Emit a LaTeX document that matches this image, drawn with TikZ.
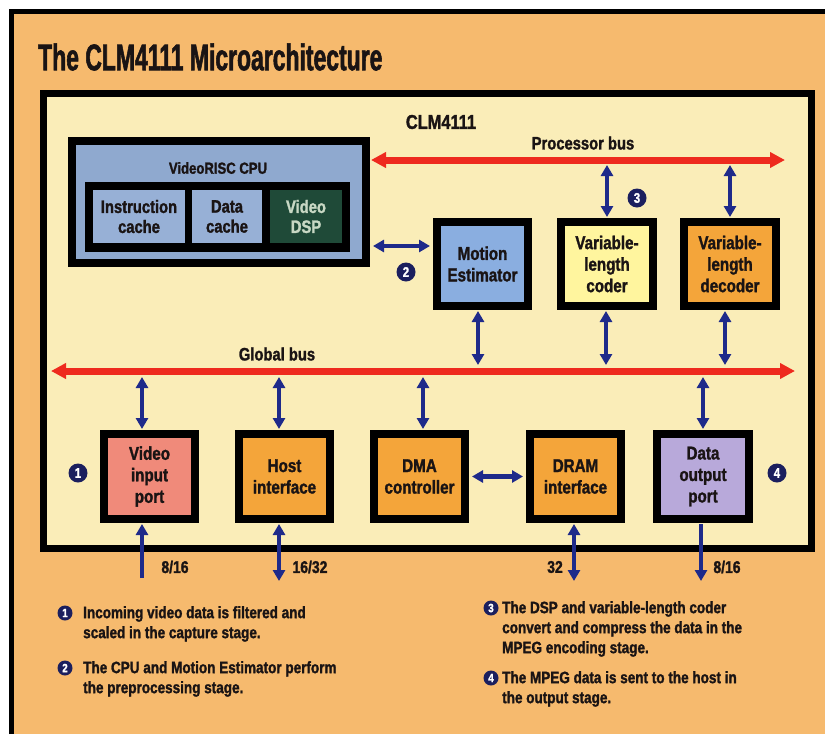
\documentclass[tikz,border=0pt]{standalone}
\usepackage{fontspec}
\setmainfont{Liberation Sans}[FakeStretch=0.82, BoldFeatures={FakeBold=1.5}]
\newfontfamily\titlefont{Liberation Sans}[FakeStretch=0.62, BoldFeatures={FakeBold=1.5}]
\usetikzlibrary{arrows.meta}
\definecolor{outerorange}{HTML}{F6BA6E}
\definecolor{chipyellow}{HTML}{FAEDB8}
\definecolor{cpublue}{HTML}{8FA9CF}
\definecolor{cacheblue}{HTML}{97B0D6}
\definecolor{dspgreen}{HTML}{1F4A38}
\definecolor{dsptext}{HTML}{C8D8C4}
\definecolor{meblue}{HTML}{8AAEE0}
\definecolor{vlcyellow}{HTML}{FFF59E}
\definecolor{boxorange}{HTML}{F4A53A}
\definecolor{vippink}{HTML}{F08A7A}
\definecolor{dolav}{HTML}{B8A9DA}
\definecolor{busred}{HTML}{EE2A1E}
\definecolor{arrblue}{HTML}{1E2A8A}
\definecolor{navy}{HTML}{1B1F5E}
\definecolor{ink}{HTML}{1A1414}
\tikzset{
  blockbox/.style={draw=black, line width=8pt, rectangle, inner sep=0pt, align=center,
    text=ink, font=\bfseries\fontsize{18.5}{21.5}\selectfont},
  cellbox/.style={rectangle, inner sep=0pt, align=center, text=ink,
    font=\bfseries\fontsize{18}{20}\selectfont},
  buslabel/.style={text=ink, font=\bfseries\fontsize{18}{21}\selectfont, inner sep=0pt},
  widthlabel/.style={text=ink, font=\bfseries\fontsize{17}{19}\selectfont, inner sep=0pt},
  notetext/.style={text=ink, font=\bfseries\fontsize{16.5}{20}\selectfont, inner sep=0pt, align=left, anchor=north west},
  numcirc/.style={circle, fill=navy, text=white, inner sep=0pt, minimum size=19pt,
    font=\bfseries\fontsize{14}{14}\selectfont},
  notecirc/.style={circle, fill=navy, text=white, inner sep=0pt, minimum size=15pt,
    font=\bfseries\fontsize{12}{12}\selectfont},
  redbus/.style={draw=busred, line width=7pt, {Triangle[length=15pt,width=15pt]}-{Triangle[length=15pt,width=15pt]}},
  barrow/.style={draw=arrblue, line width=4.5pt, {Triangle[length=11pt,width=12pt]}-{Triangle[length=11pt,width=12pt]}},
  barrowone/.style={draw=arrblue, line width=4.5pt, -{Triangle[length=11pt,width=12pt]}},
}
\begin{document}
\begin{tikzpicture}[x=1pt,y=-1pt]
\useasboundingbox (0,0) rectangle (825,734);
% background
\fill[white] (0,0) rectangle (825,734);
\fill[outerorange] (12,12) rectangle (825,734);
\draw[black, line width=5pt] (11.5,734) -- (11.5,11.5) -- (825,11.5);
% title
\node[anchor=west, inner sep=0pt, text=ink, font=\titlefont\bfseries\fontsize{37}{40}\selectfont] (title) at (38,57) {The CLM4111 Microarchitecture};
% chip
\node[draw=black, line width=7pt, fill=chipyellow, rectangle, inner sep=0pt,
  minimum width=768pt, minimum height=455pt] (chip) at (427.5,321) {};
\node[buslabel, font=\bfseries\fontsize{20}{22}\selectfont] (chiplabel) at (441,122) {CLM4111};
% CPU
\node[draw=black, line width=8pt, fill=cpublue, rectangle, inner sep=0pt,
  minimum width=294pt, minimum height=122pt] (cpu) at (219,202) {};
\node[cellbox, font=\bfseries\fontsize{16}{18}\selectfont] (cputitle) at (218,168) {VideoRISC CPU};
\node[fill=black, rectangle, inner sep=0pt, minimum width=265pt, minimum height=70pt] (cpupanel) at (217.5,217) {};
\node[cellbox, fill=cacheblue, minimum width=92pt, minimum height=53pt] (icache) at (139,216.5) {Instruction\\cache};
\node[cellbox, fill=cacheblue, minimum width=70pt, minimum height=53pt] (dcache) at (227,216.5) {Data\\cache};
\node[cellbox, fill=dspgreen, text=dsptext, minimum width=72pt, minimum height=53pt] (vdsp) at (306,216.5) {Video\\DSP};
% top row
\node[blockbox, fill=meblue, minimum width=91pt, minimum height=84pt] (me) at (482.5,264) {Motion\\Estimator};
\node[blockbox, fill=vlcyellow, minimum width=92pt, minimum height=84pt] (vlc) at (607,264) {Variable-\\length\\coder};
\node[blockbox, fill=boxorange, minimum width=92pt, minimum height=84pt] (vld) at (730,264) {Variable-\\length\\decoder};
% bottom row
\node[blockbox, fill=vippink, minimum width=91pt, minimum height=85pt] (vip) at (149.5,476.5) {Video\\input\\port};
\node[blockbox, fill=boxorange, minimum width=91pt, minimum height=85pt] (host) at (284.5,476.5) {Host\\interface};
\node[blockbox, fill=boxorange, minimum width=91pt, minimum height=85pt] (dma) at (419.5,476.5) {DMA\\controller};
\node[blockbox, fill=boxorange, minimum width=91pt, minimum height=85pt] (dram) at (575.5,476.5) {DRAM\\interface};
\node[blockbox, fill=dolav, minimum width=92pt, minimum height=85pt] (dout) at (703,476.5) {Data\\output\\port};
% buses
\coordinate (pbL) at (371,160);
\coordinate (pbR) at (785,160);
\coordinate (gbL) at (51,371);
\coordinate (gbR) at (795,371);
\draw[redbus] (pbL) -- (pbR);
\draw[redbus] (gbL) -- (gbR);
\node[buslabel] (pblabel) at (583,143) {Processor bus};
\node[buslabel] (gblabel) at (277,354) {Global bus};
% processor bus to coders
\draw[barrow, shorten <=5pt, shorten >=1pt] (vlc.north |- pbL) -- (vlc.north);
\draw[barrow, shorten <=5pt, shorten >=1pt] (vld.north |- pbL) -- (vld.north);
% cpu to motion estimator
\draw[barrow, shorten <=3pt, shorten >=3pt] ([yshift=-44pt]cpu.east) -- ([yshift=18pt]me.west);
% top row to global bus
\draw[barrow, shorten <=1pt, shorten >=6pt] ([xshift=-4.5pt]me.south) -- ([xshift=-4.5pt]me.south |- gbL);
\draw[barrow, shorten <=1pt, shorten >=6pt] ([xshift=-1pt]vlc.south) -- ([xshift=-1pt]vlc.south |- gbL);
\draw[barrow, shorten <=1pt, shorten >=6pt] ([xshift=-5pt]vld.south) -- ([xshift=-5pt]vld.south |- gbL);
% global bus to bottom row
\draw[barrow, shorten <=6pt, shorten >=1pt] ([xshift=-7.5pt]vip.north |- gbL) -- ([xshift=-7.5pt]vip.north);
\draw[barrow, shorten <=6pt, shorten >=1pt] ([xshift=-5.5pt]host.north |- gbL) -- ([xshift=-5.5pt]host.north);
\draw[barrow, shorten <=6pt, shorten >=1pt] ([xshift=3.5pt]dma.north |- gbL) -- ([xshift=3.5pt]dma.north);
\draw[barrow, shorten <=6pt, shorten >=1pt] (dout.north |- gbL) -- (dout.north);
% dma <-> dram
\draw[barrow, shorten <=3pt, shorten >=3pt] (dma.east) -- (dram.west);
% external connections
\coordinate (vipext) at (142,578);
\coordinate (hostext) at (279,581);
\coordinate (dramext) at (574,581);
\coordinate (doutext) at (701,581);
\draw[barrowone, shorten >=1pt] (vipext) -- ([xshift=-7.5pt]vip.south);
\draw[barrow, shorten <=1pt] ([xshift=-5.5pt]host.south) -- (hostext);
\draw[barrow, shorten <=1pt] ([xshift=-1.5pt]dram.south) -- (dramext);
\draw[barrowone, shorten <=1pt] ([xshift=-2pt]dout.south) -- (doutext);
\node[widthlabel] (w1) at (175,567) {8/16};
\node[widthlabel] (w2) at (310,567) {16/32};
\node[widthlabel] (w3) at (555,567) {32};
\node[widthlabel] (w4) at (727,567) {8/16};
% numbered circles in the diagram
\node[numcirc] (c1) at (78,473) {1};
\node[numcirc] (c2) at (406,272) {2};
\node[numcirc] (c3) at (637,198) {3};
\node[numcirc] (c4) at (777,473) {4};
% notes
\node[notecirc] (n1) at (65,613) {1};
\node[notetext] (t1) at (83,606) {Incoming video data is filtered and\\scaled in the capture stage.};
\node[notecirc] (n2) at (65,668) {2};
\node[notetext] (t2) at (83,661) {The CPU and Motion Estimator perform\\the preprocessing stage.};
\node[notecirc] (n3) at (491,608) {3};
\node[notetext] (t3) at (502,601) {The DSP and variable-length coder\\convert and compress the data in the\\MPEG encoding stage.};
\node[notecirc] (n4) at (491,678) {4};
\node[notetext] (t4) at (502,671) {The MPEG data is sent to the host in\\the output stage.};
\end{tikzpicture}
\end{document}
